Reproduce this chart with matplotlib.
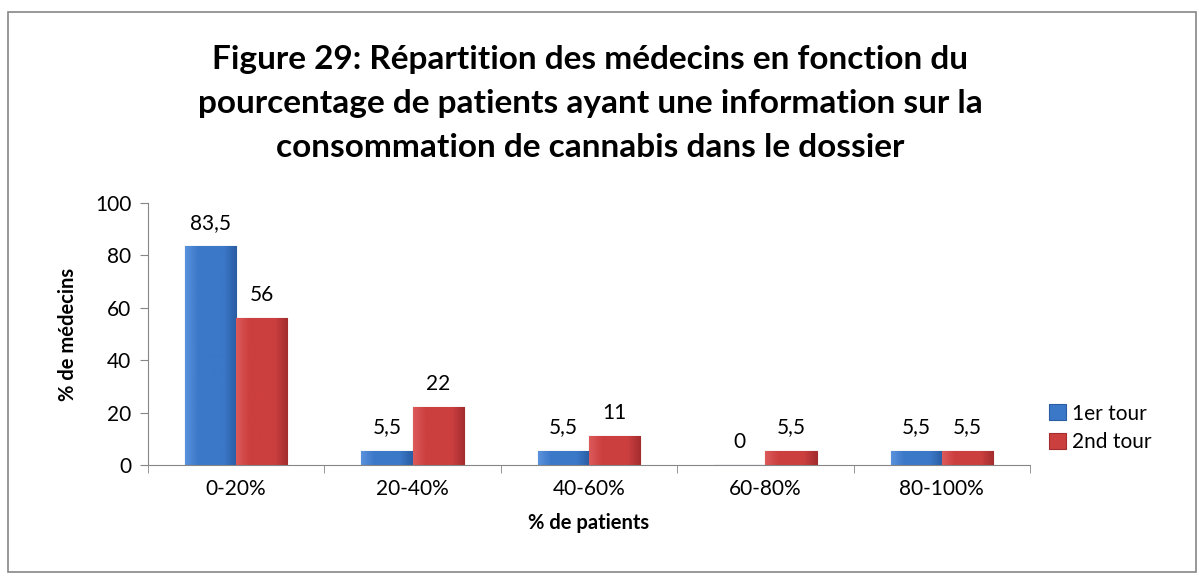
import numpy as np
import matplotlib.pyplot as plt
from matplotlib.patches import Rectangle

categories = ['0-20%', '20-40%', '40-60%', '60-80%', '80-100%']
tour1 = [83.5, 5.5, 5.5, 0, 5.5]
tour2 = [56, 22, 11, 5.5, 5.5]
labels1 = ['83,5', '5,5', '5,5', '0', '5,5']
labels2 = ['56', '22', '11', '5,5', '5,5']

plt.rcParams['font.family'] = ['Lato', 'DejaVu Sans']

fig = plt.figure(figsize=(12.04, 5.8), dpi=100)
ax = fig.add_axes([0.1229, 0.1983, 0.7326, 0.4517])

# outer frame like the excel chart area
fig.patches.append(Rectangle((8 / 1204, 8 / 580), 1188 / 1204, 560 / 580,
                             transform=fig.transFigure, fill=False,
                             edgecolor='#868686', linewidth=1.2))

x = np.arange(len(categories))
w = 0.29


def gradient_bars(xs, vals, base, light, dark, label):
    bars = ax.bar(xs, vals, w, color=base, edgecolor=dark, linewidth=0.8, label=label)
    grad = np.linspace(0, 1, 100).reshape(1, -1)
    cmap = plt.matplotlib.colors.LinearSegmentedColormap.from_list(
        'g', [light, base, base, base, dark])
    for b in bars:
        if b.get_height() <= 0:
            continue
        x0, y0 = b.get_x(), b.get_y()
        im = ax.imshow(grad, extent=[x0, x0 + b.get_width(), y0, y0 + b.get_height()],
                       aspect='auto', cmap=cmap, zorder=b.get_zorder() + 0.1)
        im.set_clip_path(b)
    return bars


gradient_bars(x - w / 2, tour1, '#3b78c8', '#5b92dc', '#2a5da3', '1er tour')
gradient_bars(x + w / 2, tour2, '#cc3f3f', '#dc5a5a', '#a32d2e', '2nd tour')

for i in range(len(categories)):
    ax.text(x[i] - w / 2, tour1[i] + 5, labels1[i], ha='center', va='bottom', fontsize=15)
    ax.text(x[i] + w / 2, tour2[i] + 5, labels2[i], ha='center', va='bottom', fontsize=15)

ax.set_xlim(-0.5, len(categories) - 0.5)
ax.set_ylim(0, 100)
ax.set_yticks(range(0, 101, 20))
ax.set_xticks(x)
ax.set_xticklabels(categories, fontsize=15)
ax.set_xticks(np.arange(-0.5, len(categories), 1), minor=True)
ax.tick_params(axis='x', which='major', length=0, pad=10)
ax.tick_params(axis='x', which='minor', length=6, color='#868686')
ax.tick_params(axis='y', labelsize=15, length=6, color='#868686', pad=6)
for s in ['top', 'right']:
    ax.spines[s].set_visible(False)
for s in ['left', 'bottom']:
    ax.spines[s].set_color('#868686')

ax.set_xlabel('% de patients', fontsize=14.5, fontweight='bold', labelpad=10)
ax.set_ylabel('% de médecins', fontsize=14.5, fontweight='bold', labelpad=12)

fig.text(0.49, 0.822, 'Figure 29: Répartition des médecins en fonction du\n'
         'pourcentage de patients ayant une information sur la\n'
         'consommation de cannabis dans le dossier',
         ha='center', va='center', fontsize=24, fontweight='bold', linespacing=1.62)

fig.legend(loc='center left', bbox_to_anchor=(0.856, 0.262), frameon=False,
           fontsize=15, handlelength=0.8, handleheight=0.8, handletextpad=0.3,
           labelspacing=0.42)

fig.savefig('out.png', dpi=100)
